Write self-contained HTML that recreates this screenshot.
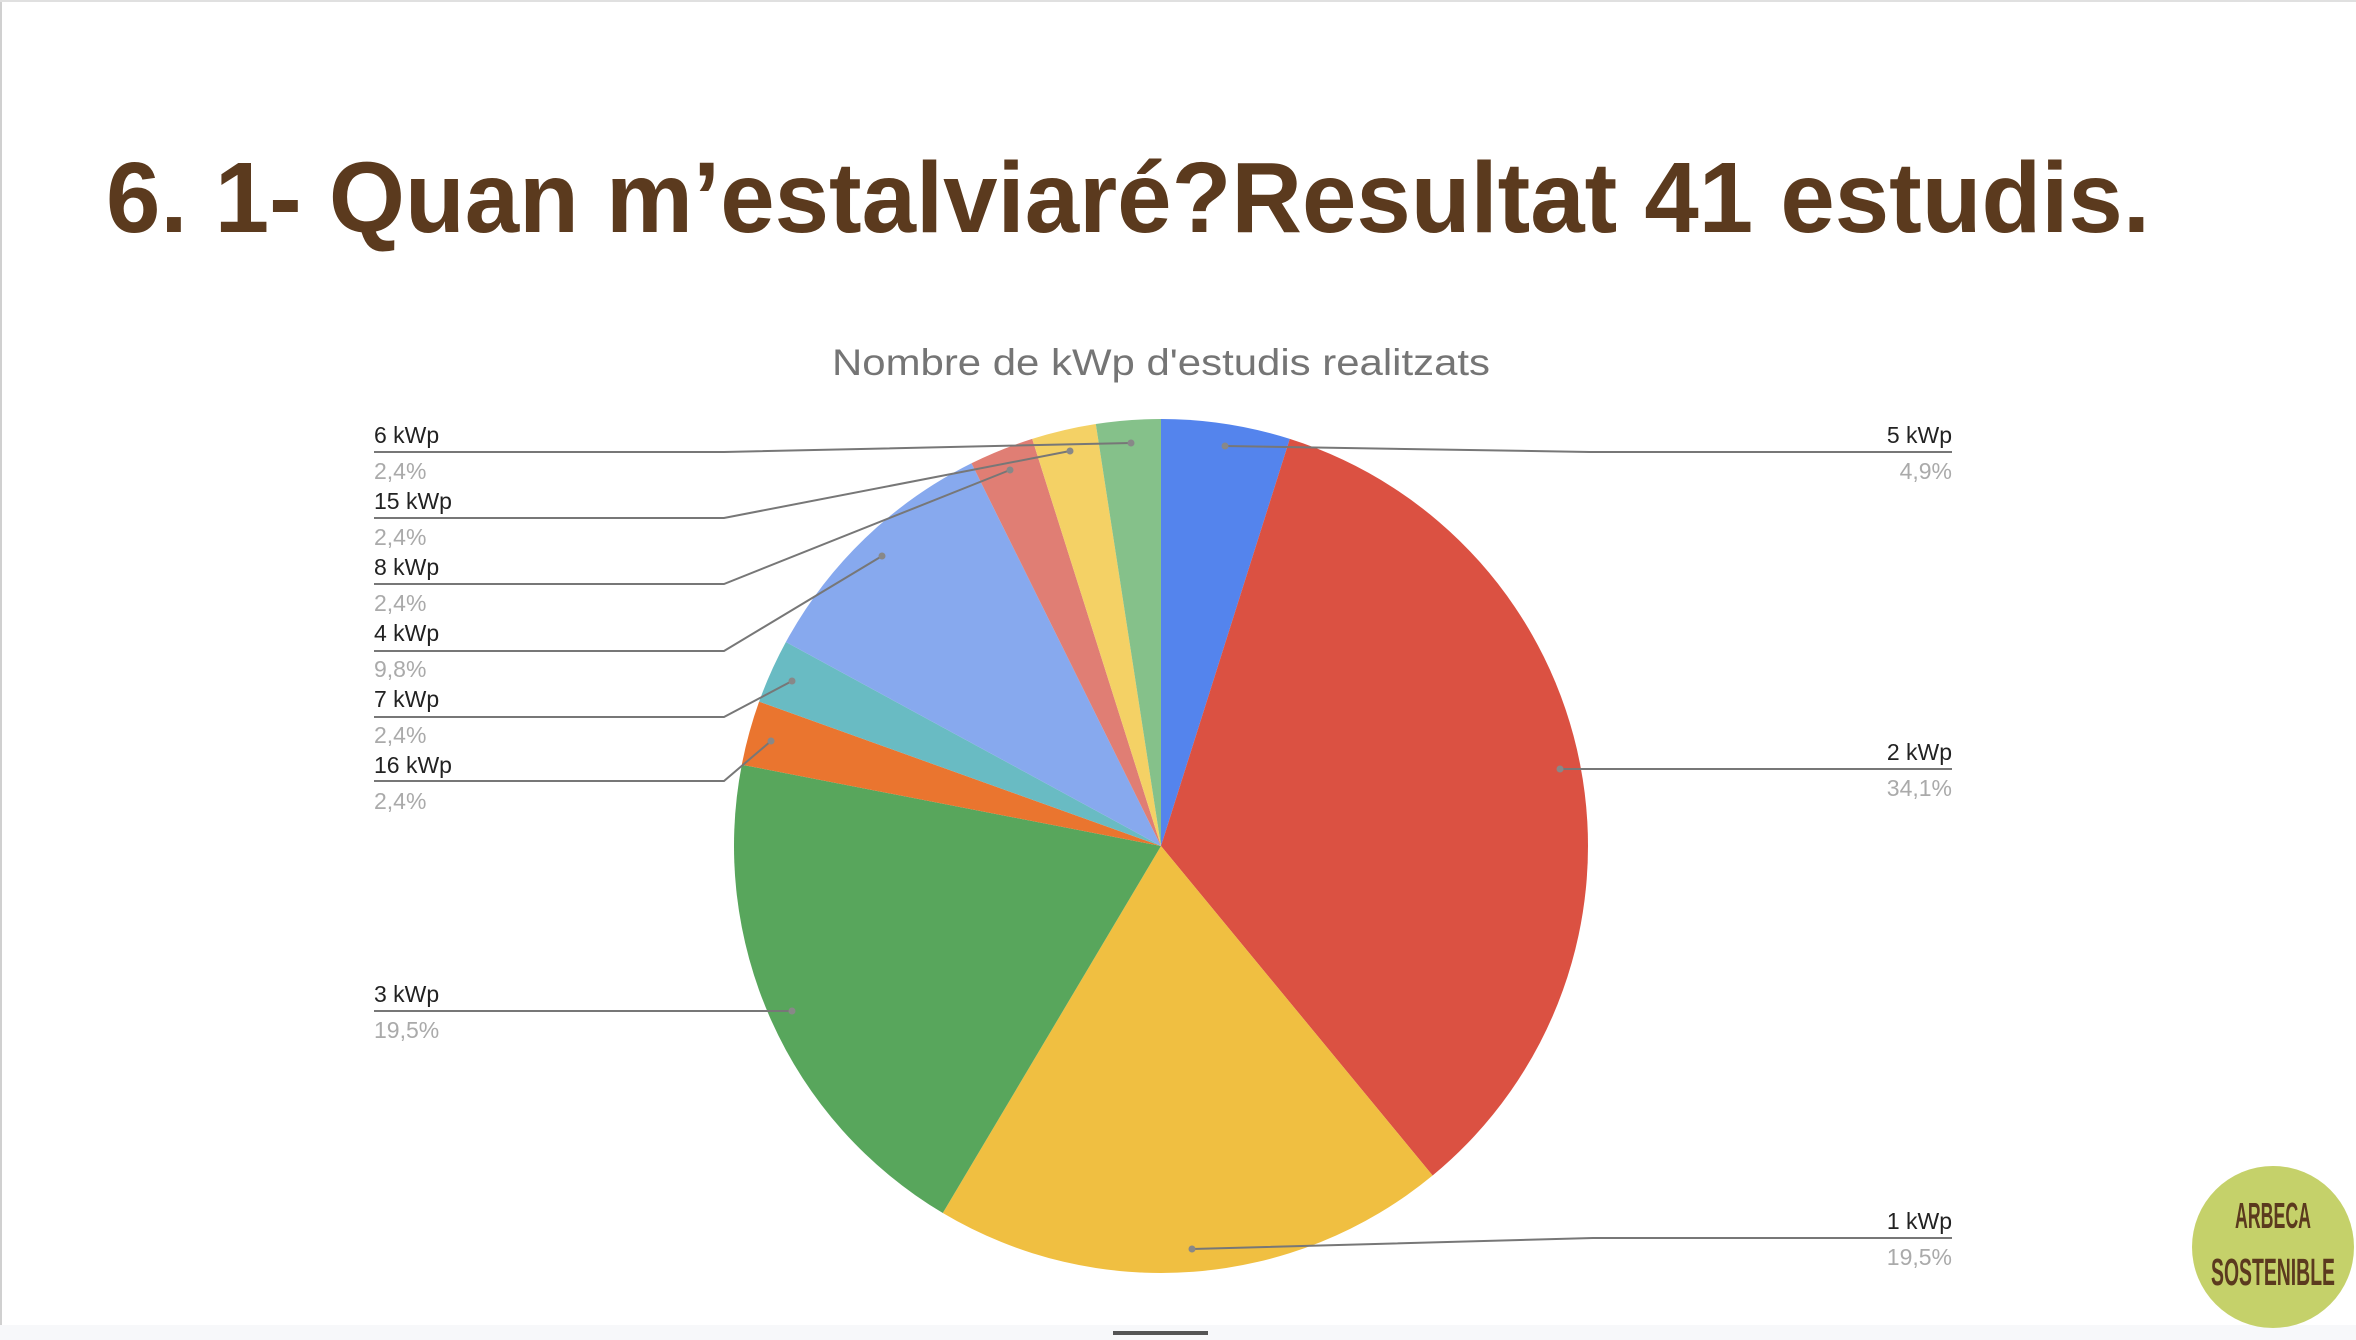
<!DOCTYPE html>
<html><head><meta charset="utf-8"><style>
html,body{margin:0;padding:0;background:#fff;}
svg{display:block;}
</style></head><body>
<svg width="2356" height="1340" viewBox="0 0 2356 1340" xmlns="http://www.w3.org/2000/svg">
<rect x="0" y="0" width="2356" height="1340" fill="#fff"/>
<line x1="1" y1="0" x2="1" y2="1325" stroke="#d0d0d0" stroke-width="2"/>
<line x1="0" y1="1" x2="2356" y2="1" stroke="#e0e0e0" stroke-width="2"/>
<rect x="0" y="1325" width="2356" height="15" fill="#f7f8fa"/>
<rect x="1113" y="1331" width="95" height="4" fill="#555"/>
<text x="106" y="232" font-family="Liberation Sans, sans-serif" font-weight="bold" font-size="100" fill="#5B3A1E" textLength="2044" lengthAdjust="spacingAndGlyphs">6. 1- Quan m’estalviaré?Resultat 41 estudis.</text>
<text x="1161" y="375" text-anchor="middle" font-family="Liberation Sans, sans-serif" font-size="37" fill="#757575" textLength="658" lengthAdjust="spacingAndGlyphs">Nombre de kWp d'estudis realitzats</text>
<g stroke="none">
<path d="M1161 846 L1161 419 A427 427 0 0 1 1289.8 438.9 Z" fill="#5484ED"/>
<path d="M1161 846 L1289.8 438.9 A427 427 0 0 1 1432.6 1175.5 Z" fill="#DB5142"/>
<path d="M1161 846 L1432.6 1175.5 A427 427 0 0 1 942.8 1213 Z" fill="#F0BF41"/>
<path d="M1161 846 L942.8 1213 A427 427 0 0 1 741.8 764.7 Z" fill="#58A65C"/>
<path d="M1161 846 L741.8 764.7 A427 427 0 0 1 759.1 701.6 Z" fill="#EA752F"/>
<path d="M1161 846 L759.1 701.6 A427 427 0 0 1 785.9 642 Z" fill="#69BBC3"/>
<path d="M1161 846 L785.9 642 A427 427 0 0 1 971.5 463.3 Z" fill="#87A9EE"/>
<path d="M1161 846 L971.5 463.3 A427 427 0 0 1 1032.2 438.9 Z" fill="#E07E74"/>
<path d="M1161 846 L1032.2 438.9 A427 427 0 0 1 1095.8 424 Z" fill="#F4D165"/>
<path d="M1161 846 L1095.8 424 A427 427 0 0 1 1161 419 Z" fill="#85C18A"/>
</g>
<g fill="none" stroke="#777" stroke-width="2">
<polyline points="1131,443 724,452 374,452"/>
<polyline points="1070,451 724,518 374,518"/>
<polyline points="1010,470 724,584 374,584"/>
<polyline points="882,556 724,651 374,651"/>
<polyline points="792,681 724,717 374,717"/>
<polyline points="771,741 724,781 374,781"/>
<polyline points="792,1011 374,1011"/>
<polyline points="1225,446 1590,452 1952,452"/>
<polyline points="1560,769 1952,769"/>
<polyline points="1192,1249 1593,1238 1952,1238"/>
</g>
<g fill="#888">
<circle cx="1131" cy="443" r="3.5"/><circle cx="1070" cy="451" r="3.5"/><circle cx="1010" cy="470" r="3.5"/>
<circle cx="882" cy="556" r="3.5"/><circle cx="792" cy="681" r="3.5"/><circle cx="771" cy="741" r="3.5"/>
<circle cx="792" cy="1011" r="3.5"/><circle cx="1225" cy="446" r="3.5"/><circle cx="1560" cy="769" r="3.5"/><circle cx="1192" cy="1249" r="3.5"/>
</g>
<g font-family="Liberation Sans, sans-serif" font-size="23" fill="#222">
<text x="374" y="443">6 kWp</text>
<text x="374" y="509">15 kWp</text>
<text x="374" y="575">8 kWp</text>
<text x="374" y="641">4 kWp</text>
<text x="374" y="707">7 kWp</text>
<text x="374" y="773">16 kWp</text>
<text x="374" y="1002">3 kWp</text>
<text x="1952" y="443" text-anchor="end">5 kWp</text>
<text x="1952" y="760" text-anchor="end">2 kWp</text>
<text x="1952" y="1229" text-anchor="end">1 kWp</text>
</g>
<g font-family="Liberation Sans, sans-serif" font-size="23" fill="#aaa">
<text x="374" y="479">2,4%</text>
<text x="374" y="545">2,4%</text>
<text x="374" y="611">2,4%</text>
<text x="374" y="677">9,8%</text>
<text x="374" y="743">2,4%</text>
<text x="374" y="809">2,4%</text>
<text x="374" y="1038">19,5%</text>
<text x="1952" y="479" text-anchor="end">4,9%</text>
<text x="1952" y="796" text-anchor="end">34,1%</text>
<text x="1952" y="1265" text-anchor="end">19,5%</text>
</g>
<circle cx="2273" cy="1247" r="81" fill="#C5D16A"/>
<text x="2273" y="1228" text-anchor="middle" font-family="Liberation Sans Narrow, Liberation Sans, sans-serif" font-weight="bold" font-size="36" fill="#5B3A1E" textLength="76" lengthAdjust="spacingAndGlyphs">ARBECA</text>
<text x="2273" y="1285" text-anchor="middle" font-family="Liberation Sans Narrow, Liberation Sans, sans-serif" font-weight="bold" font-size="38" fill="#5B3A1E" textLength="124" lengthAdjust="spacingAndGlyphs">SOSTENIBLE</text>
</svg>
</body></html>
